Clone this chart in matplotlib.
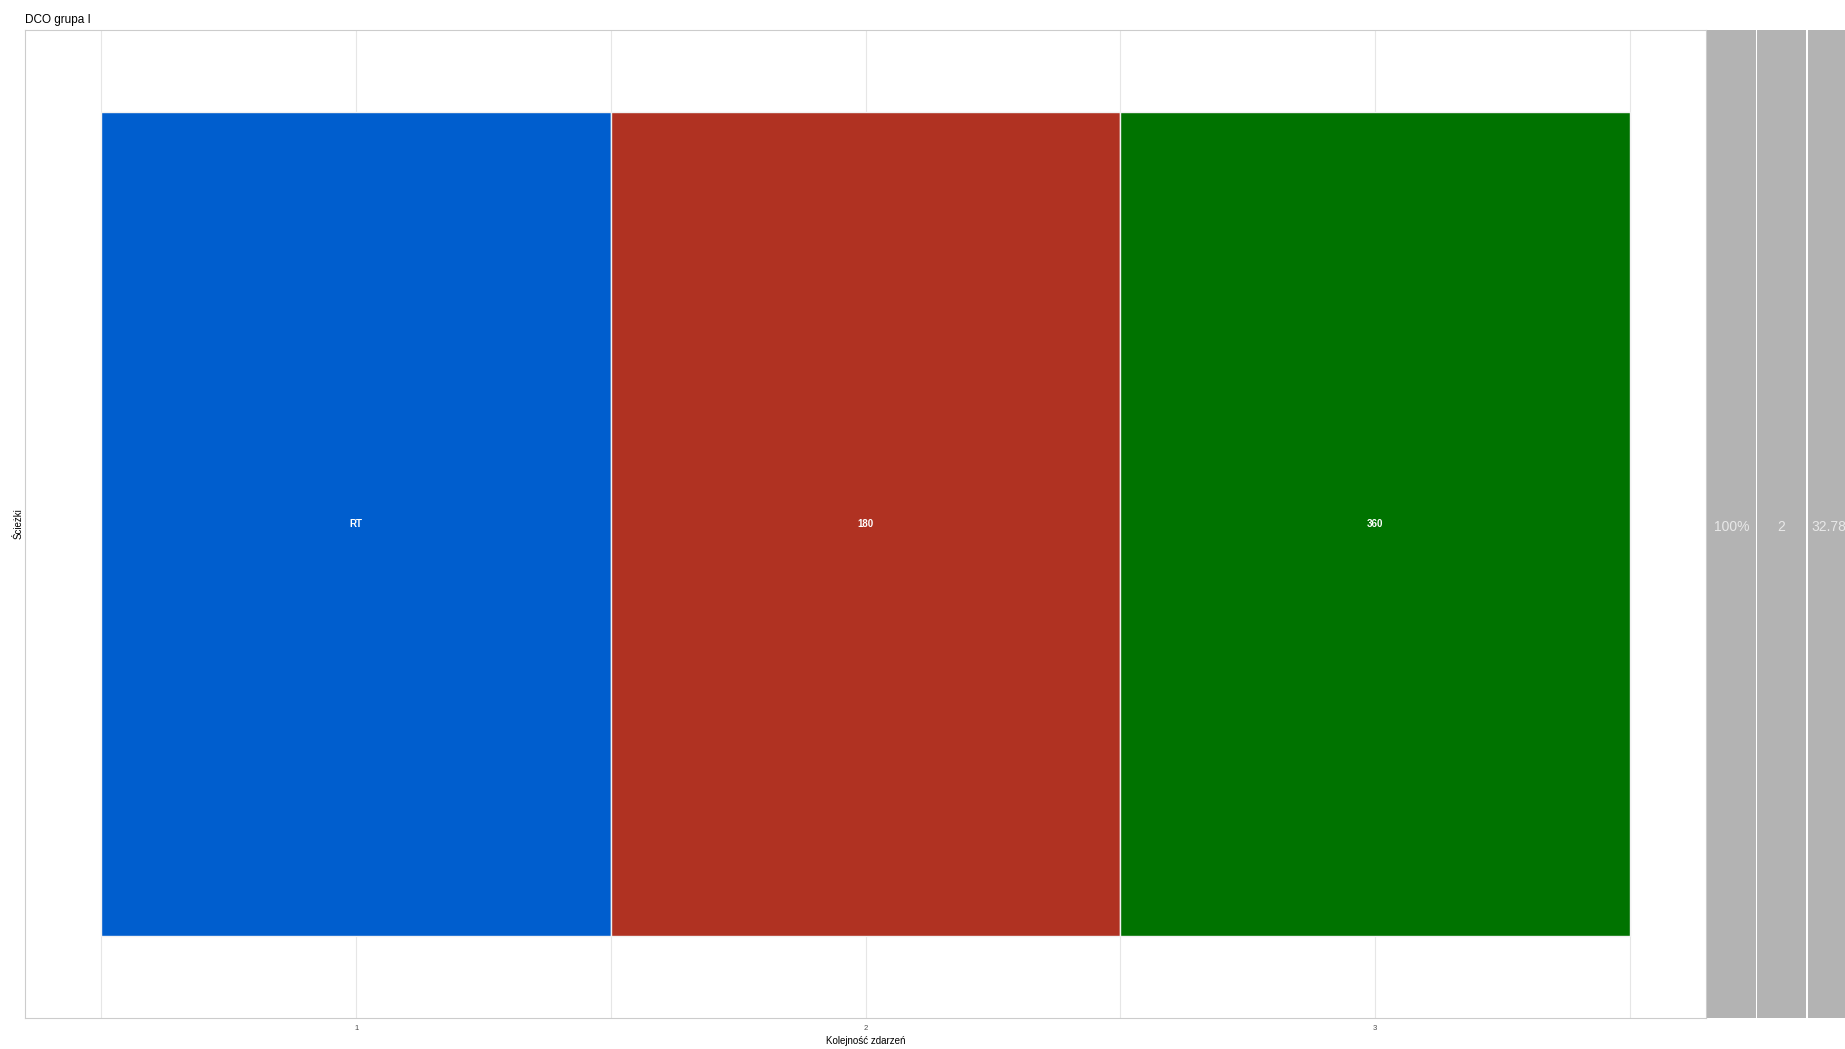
import matplotlib
matplotlib.use('Agg')
import matplotlib.pyplot as plt

plt.rcParams['font.family'] = ['Liberation Sans', 'DejaVu Sans']

# data
steps = [1, 2, 3]
step_labels = ['RT', '180', '360']
step_colors = ['#005ECE', '#B03222', '#007300']
side_values = ['100%', '2', '32.78']
title = 'DCO grupa I'

W, H = 1845, 1049
fig = plt.figure(figsize=(W / 100, H / 100), dpi=100)

# main panel
ax = fig.add_axes([25 / W, (H - 1018) / H, (1706 - 25) / W, (1018 - 30) / H])
ax.bar(steps, [1] * len(steps), width=1.0, bottom=0, color=step_colors,
       edgecolor='#f2f2f2', linewidth=1, zorder=2)
for x, lab in zip(steps, step_labels):
    ax.text(x, 0.5, lab, ha='center', va='center', color='white',
            fontsize=7, fontweight='bold', zorder=3)
ax.set_xlim(0.35, 3.65)
ax.set_ylim(-0.1, 1.1)
ax.set_xticks(steps)
ax.set_xticks([0.5, 1.5, 2.5, 3.5], minor=True)
ax.set_yticks([])
ax.grid(axis='x', which='both', color='#e6e6e6', linewidth=0.8, zorder=0)
ax.tick_params(axis='x', which='both', length=0, labelsize=5.5, colors='#4d4d4d', pad=5)
for s in ax.spines.values():
    s.set_color('#cccccc')
    s.set_linewidth(0.8)
ax.set_xlabel('Kolejność zdarzeń', fontsize=7, color='black', labelpad=3)
ax.set_ylabel('Ścieżki', fontsize=7, color='black', labelpad=1)
ax.set_title(title, loc='left', fontsize=8.5, pad=5)

# side panels
lefts = [1707, 1757, 1808]
for i, (left, val) in enumerate(zip(lefts, side_values)):
    sax = fig.add_axes([left / W, (H - 1018) / H, 49 / W, (1018 - 30) / H])
    sax.set_facecolor('#b3b3b3')
    sax.set_xticks([])
    sax.set_yticks([])
    for s in sax.spines.values():
        s.set_visible(False)
    ty = 1 - (527 - 30) / (1018 - 30)
    if i == len(side_values) - 1:
        sax.text(3 / 49, ty, val, transform=sax.transAxes, ha='left', va='center',
                 color='#e8e8e8', fontsize=10, clip_on=False)
    else:
        sax.text(0.5, ty, val, transform=sax.transAxes, ha='center', va='center',
                 color='#e8e8e8', fontsize=10, clip_on=False)

fig.savefig('out.png', dpi=100, facecolor='white')
